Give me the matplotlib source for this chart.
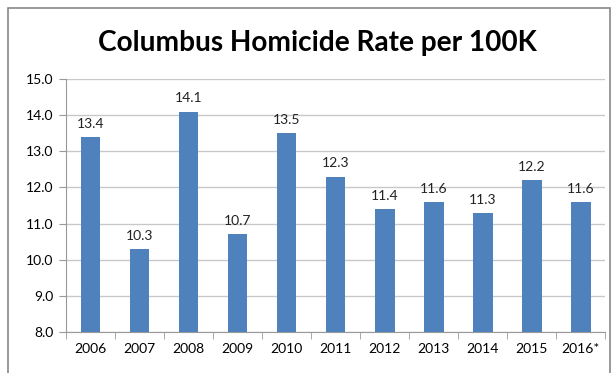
import matplotlib.pyplot as plt
import matplotlib.patches as patches

years = ['2006', '2007', '2008', '2009', '2010', '2011', '2012', '2013', '2014', '2015', '2016*']
rates = [13.4, 10.3, 14.1, 10.7, 13.5, 12.3, 11.4, 11.6, 11.3, 12.2, 11.6]

plt.rcParams['font.family'] = ['Lato', 'DejaVu Sans']

fig = plt.figure(figsize=(6.12, 3.73), dpi=100)
ax = fig.add_axes([0.108, 0.110, 0.881, 0.678])

x = range(len(years))
ax.bar(x, rates, width=0.4, color='#4f81bd', zorder=3)
for i, v in zip(x, rates):
    ax.text(i, v + 0.2, f'{v:.1f}', ha='center', va='bottom', fontsize=10, color='#222222')

ax.set_ylim(8, 15)
ax.set_xlim(-0.5, len(years) - 0.5)
ax.set_yticks([8, 9, 10, 11, 12, 13, 14, 15])
ax.set_yticklabels([f'{t:.1f}' for t in ax.get_yticks()], fontsize=10)
ax.set_xticks(list(x))
ax.set_xticklabels(years, fontsize=10)
ax.set_xticks([i - 0.5 for i in range(len(years) + 1)], minor=True)
ax.tick_params(axis='x', which='major', length=0, pad=8)
ax.tick_params(axis='x', which='minor', length=5, color='#999999')
ax.tick_params(axis='y', length=5, color='#999999', pad=4)
ax.grid(axis='y', color='#c8c8c8', linewidth=1, zorder=0)
for s in ['top', 'right']:
    ax.spines[s].set_visible(False)
ax.spines['left'].set_color('#999999')
ax.spines['bottom'].set_color('#999999')

fig.text(0.518, 0.885, 'Columbus Homicide Rate per 100K', ha='center', va='center',
         fontsize=20.2, fontweight='bold')

border = patches.Rectangle((8 / 612, -0.05), 602 / 612, 1 - 8 / 373 + 0.05,
                           transform=fig.transFigure, fill=False,
                           edgecolor='#888888', linewidth=1.2)
fig.patches.append(border)

fig.savefig('out.png', dpi=100)
